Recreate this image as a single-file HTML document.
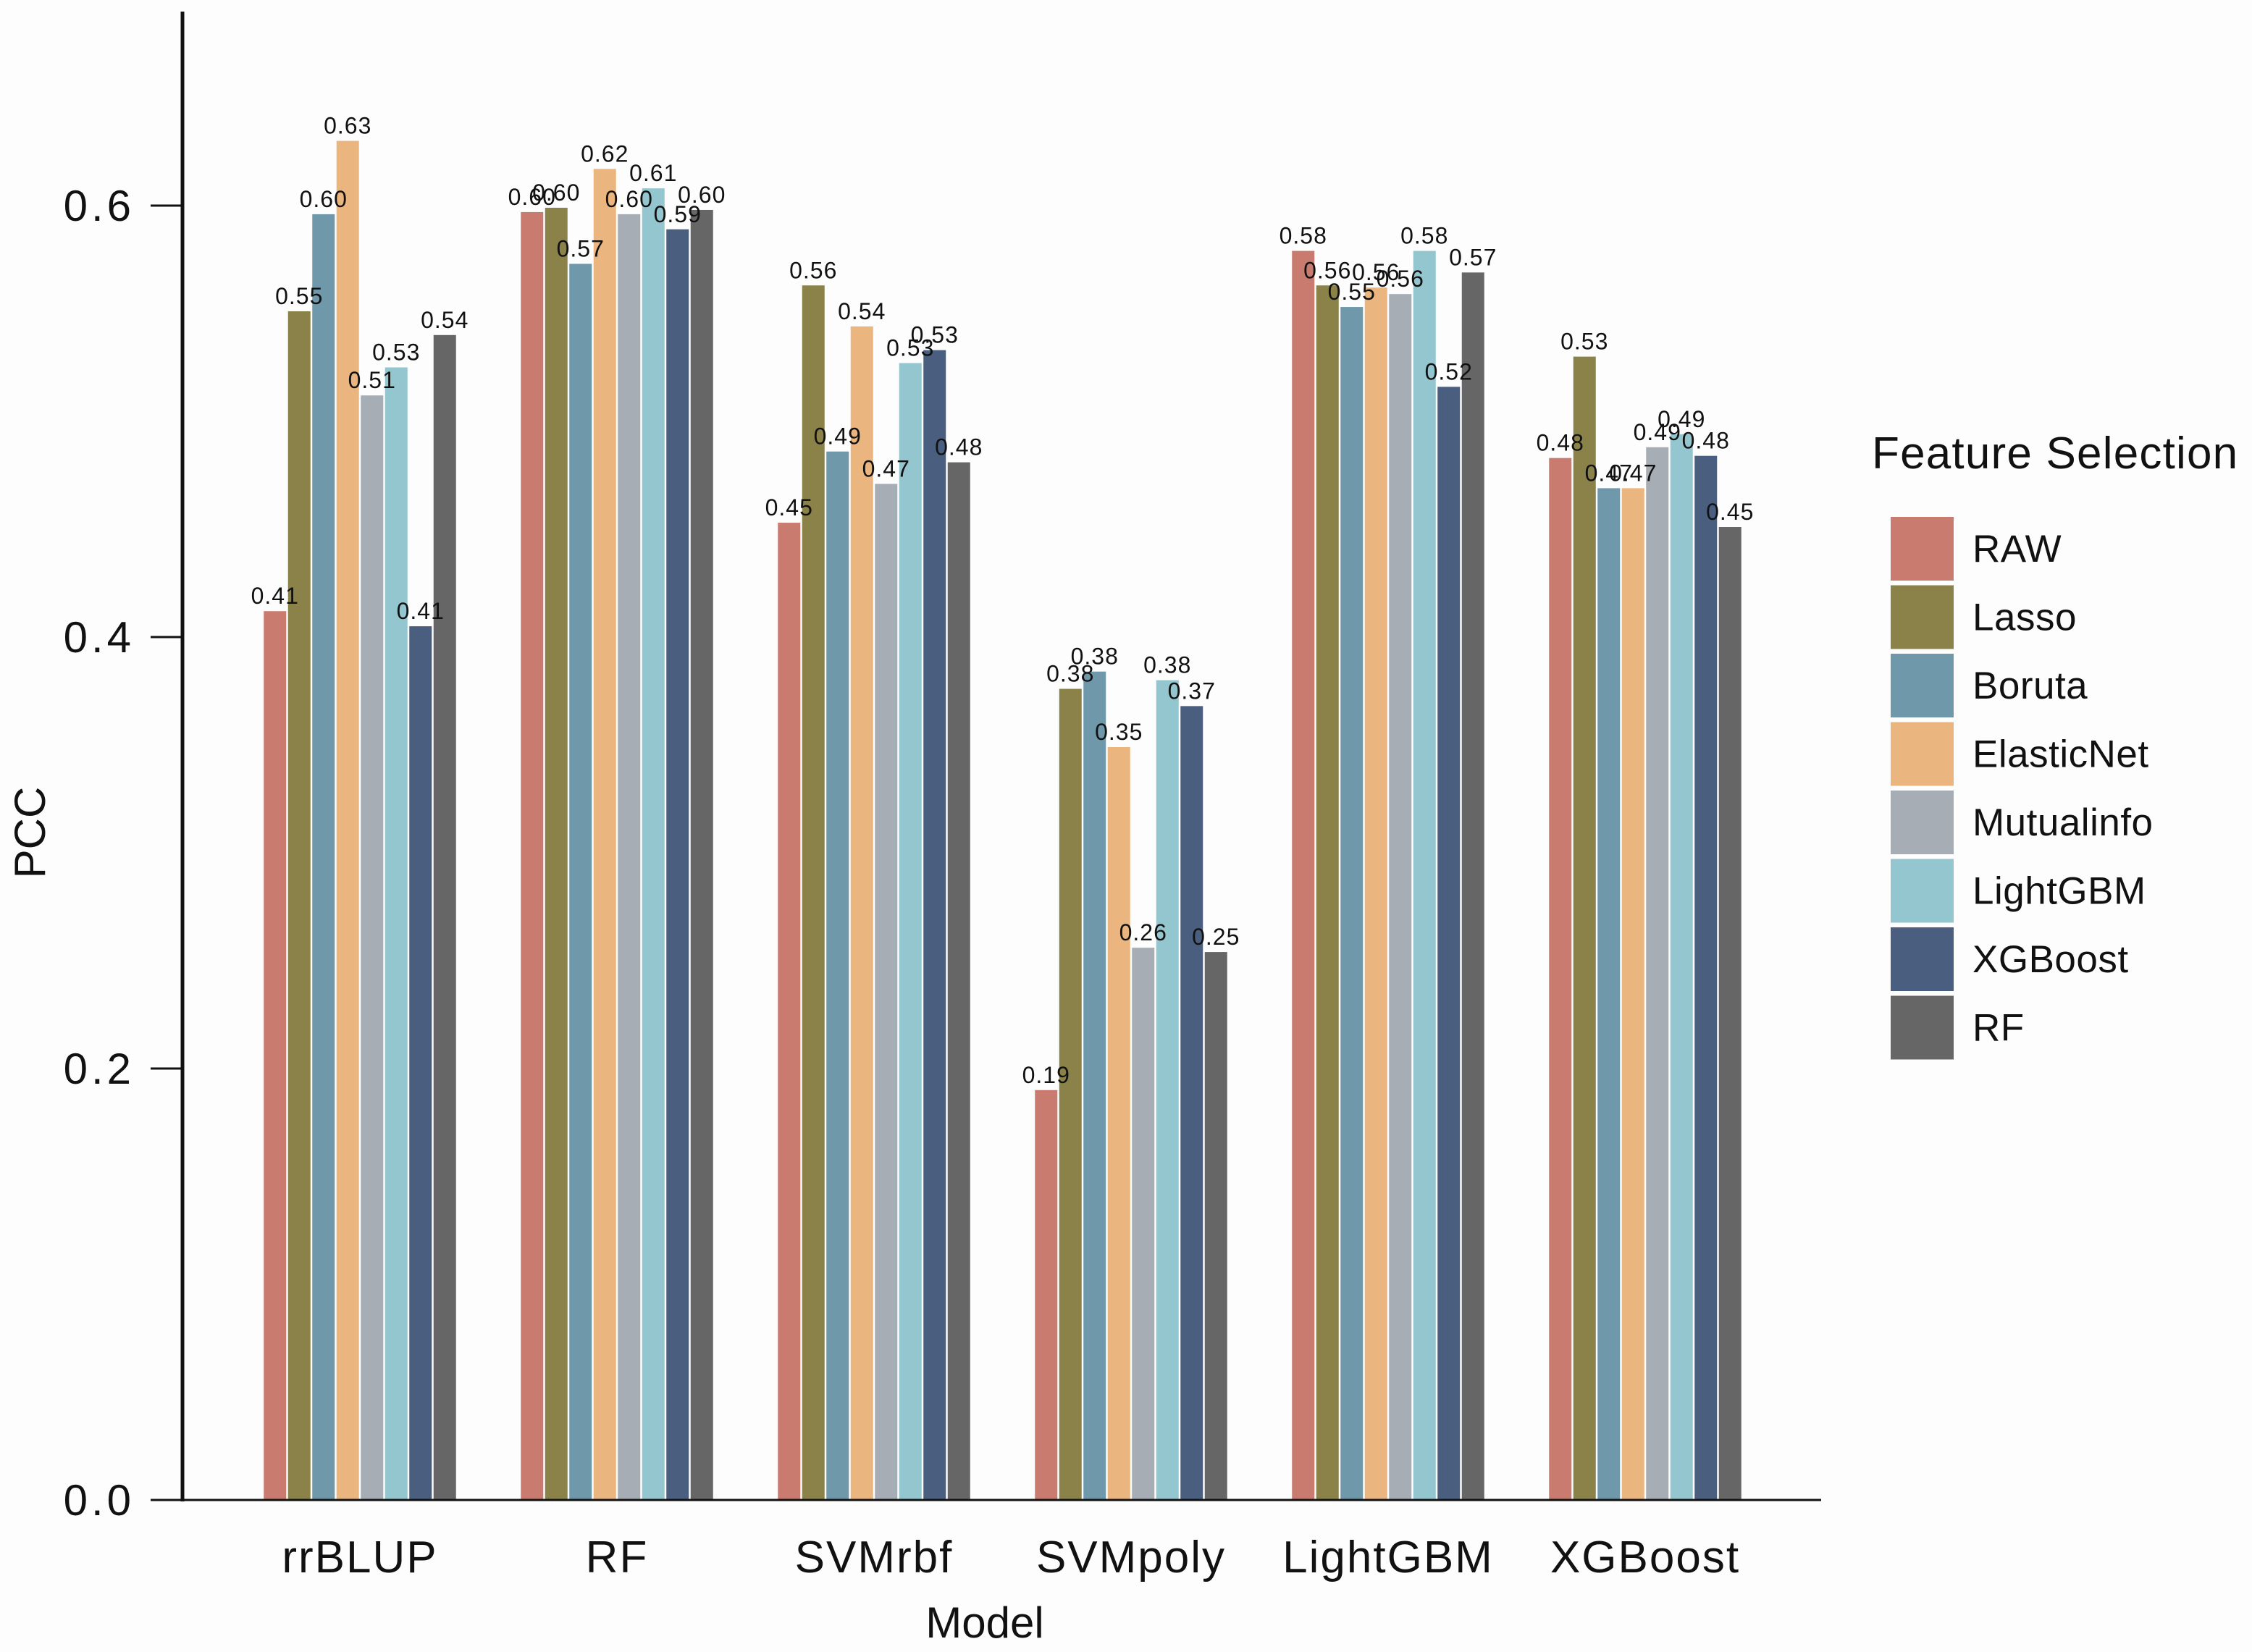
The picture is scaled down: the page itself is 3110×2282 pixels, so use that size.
<!DOCTYPE html>
<html><head><meta charset="utf-8"><style>
html,body{margin:0;padding:0;background:#fdfdfd;}
svg{display:block;font-family:"Liberation Sans",sans-serif;}
</style></head><body>
<svg id="chart" width="3110" height="2282" viewBox="0 0 3110 2282" xmlns="http://www.w3.org/2000/svg">
<rect width="3110" height="2282" fill="#fdfdfd"/>
<g id="bars"></g>
<g id="labels"></g>
<g id="axes"></g>
<g id="legend"></g>
</svg>
<script>
const models = ["rrBLUP","RF","SVMrbf","SVMpoly","LightGBM","XGBoost"];
const methods = ["RAW","Lasso","Boruta","ElasticNet","Mutualinfo","LightGBM","XGBoost","RF"];
const colors = ["#c97b6f","#8a8249","#6f98ab","#ebb57f","#a6adb5","#94c6cf","#4a5f80","#666666"];
const valRAW = [0.412,0.597,0.453,0.190,0.579,0.483];
const valLasso = [0.551,0.599,0.563,0.376,0.563,0.530];
const valBoruta = [0.596,0.573,0.486,0.384,0.553,0.469];
const valElastic = [0.630,0.617,0.544,0.349,0.562,0.469];
const valMutual = [0.512,0.596,0.471,0.256,0.559,0.488];
const valLightGBM = [0.525,0.608,0.527,0.380,0.579,0.494];
const valXGBoost = [0.405,0.589,0.533,0.368,0.516,0.484];
const valRF = [0.540,0.598,0.481,0.254,0.569,0.451];
const yTicks = [0.0,0.2,0.4,0.6];
const series = [valRAW,valLasso,valBoruta,valElastic,valMutual,valLightGBM,valXGBoost,valRF];

const NS="http://www.w3.org/2000/svg";
const x0=252, yBase=2072, pxPerUnit=(2072-284)/0.6;
const groupStart=497, groupStep=355, barStep=33.5, barW=31;
function yScale(v){return yBase - v*pxPerUnit;}
function xGroup(i){return groupStart + i*groupStep;}
function xBar(g,s){return xGroup(g) + (s-3.5)*barStep;}
function mk(tag,attrs,parent){const e=document.createElementNS(NS,tag);for(const k in attrs)e.setAttribute(k,attrs[k]);parent.appendChild(e);return e;}

const bars=document.getElementById('bars');
const labels=document.getElementById('labels');
series.forEach((vals,s)=>{
  vals.forEach((v,g)=>{
    const cx=xBar(g,s);
    const r=mk('rect',{x:cx-barW/2,y:yScale(v),width:barW,height:yBase-yScale(v),fill:colors[s]},bars);
    
    
    const t=mk('text',{x:cx,y:yScale(v)-10,'font-size':32,'letter-spacing':1,'text-anchor':'middle',fill:'#111'},labels);
    t.textContent=(Math.round(v*100)/100).toFixed(2);
    
    
  });
});

const axes=document.getElementById('axes');
let l=mk('line',{x1:x0,y1:16,x2:x0,y2:yBase+2,stroke:'#111','stroke-width':5},axes);


l=mk('line',{x1:208,y1:yBase,x2:2515,y2:yBase,stroke:'#111','stroke-width':3},axes);


yTicks.forEach(v=>{
  const y=yScale(v);
  const tk=mk('line',{x1:208,y1:y,x2:x0,y2:y,stroke:'#111','stroke-width':3},axes);
  
  
  const t=mk('text',{x:186,y:y+21,'font-size':60,'letter-spacing':5,'text-anchor':'end',fill:'#111'},axes);
  t.textContent=v.toFixed(1);
  
  
});
models.forEach((m,g)=>{
  const t=mk('text',{x:xGroup(g),y:2172,'font-size':62,'letter-spacing':2,'text-anchor':'middle',fill:'#111'},axes);
  t.textContent=m;
  
  
});
let t=mk('text',{x:1360,y:2262,'font-size':60,'text-anchor':'middle',fill:'#111'},axes);
t.textContent='Model';


t=mk('text',{x:62,y:1150,'font-size':60,'text-anchor':'middle',fill:'#111',transform:'rotate(-90 62 1150)'},axes);
t.textContent='PCC';



const legend=document.getElementById('legend');
t=mk('text',{x:2585,y:647,'font-size':62,'letter-spacing':1.2,fill:'#111'},legend);
t.textContent='Feature Selection';


methods.forEach((m,s)=>{
  const y=714+s*94.5;
  const r=mk('rect',{x:2611,y:y,width:87,height:88,fill:colors[s]},legend);
  
  
  const tx=mk('text',{x:2724,y:y+62,'font-size':53,'letter-spacing':0.5,fill:'#111'},legend);
  tx.textContent=m;
  
  
});
</script>
</body></html>
